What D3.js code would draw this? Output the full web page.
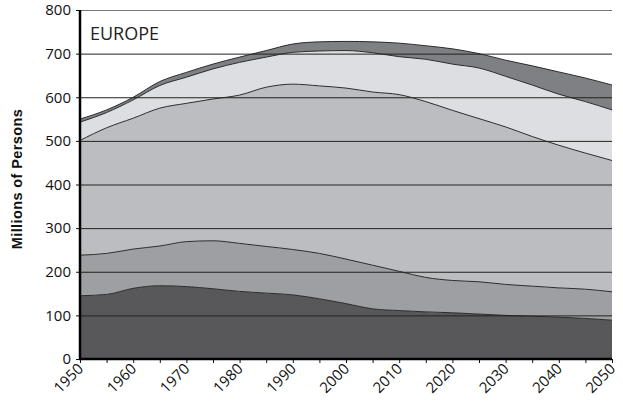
<!DOCTYPE html>
<html>
<head>
<meta charset="utf-8">
<script src="https://cdn.jsdelivr.net/npm/d3@7"></script>
<style>
  body { margin: 0; background: #fff; }
  svg { display: block; }
  .tick text { font-family: "Open Sans", sans-serif; font-size: 15px; fill: #111; }
</style>
</head>
<body>
<svg id="chart" width="623" height="404"></svg>
<script>
// data: Europe population by age group, millions
const years = d3.range(1950, 2051, 5);
const ageGroups = ['0-14', '15-24', '25-64', '65-79', '80+'];
const age0to14 = [145, 148, 162, 168, 166, 161, 155, 151, 147, 138, 127, 115, 111, 108, 106, 103, 100, 98, 96, 93, 89];
const age15to24 = [93, 94, 90, 91, 103, 110, 110, 107, 104, 104, 102, 100, 90, 79, 74, 74, 71, 69, 67, 67, 65];
const age25to64 = [263, 288, 300, 316, 317, 325, 340, 365, 379, 384, 392, 397, 405, 403, 390, 374, 361, 343, 327, 312, 301];
const age65to79 = [42, 35, 42, 52, 60, 69, 75, 69, 73, 80, 86, 90, 87, 97, 106, 116, 116, 118, 117, 118, 116];
const age80plus = [7, 6, 6, 9, 11, 11, 12, 15, 19, 21, 21, 25, 31, 31, 35, 33, 37, 44, 51, 54, 57];
const yTicks = [0, 100, 200, 300, 400, 500, 600, 700, 800];
const xLabels = d3.range(1950, 2051, 10);

const series = [age0to14, age15to24, age25to64, age65to79, age80plus];
const colors = ['#58585b', '#9e9fa2', '#bcbdc1', '#dddee1', '#7f8083'];

const table = years.map((yr, i) => {
  const row = { year: yr };
  ageGroups.forEach((g, j) => { row[g] = series[j][i]; });
  return row;
});

const svg = d3.select('#chart');
const margin = { top: 10, right: 11, bottom: 45, left: 80 };
const width = 623 - margin.left - margin.right,
  height = 404 - margin.top - margin.bottom;

const x = d3.scaleLinear().domain([1950, 2050]).range([0, width]);
const y = d3.scaleLinear().domain([0, 800]).range([height, 0]);

const g = svg.append('g').attr('transform', `translate(${margin.left},${margin.top})`);

// stacked areas
const stacked = d3.stack().keys(ageGroups)(table);
const area = d3.area()
  .curve(d3.curveMonotoneX)
  .x(d => x(d.data.year))
  .y0(d => y(d[0]))
  .y1(d => y(d[1]));

g.selectAll('path.layer')
  .data(stacked)
  .enter()
  .append('path')
  .attr('class', 'layer')
  .attr('d', area)
  .attr('fill', (d, i) => colors[i]);

// layer outlines
const line = d3.line()
  .curve(d3.curveMonotoneX)
  .x(d => x(d.data.year))
  .y(d => y(d[1]));

g.selectAll('path.edge')
  .data(stacked)
  .enter()
  .append('path')
  .attr('class', 'edge')
  .attr('d', line)
  .attr('fill', 'none')
  .attr('stroke', '#2b2b2d')
  .attr('stroke-width', 1);

// grid lines over the areas
g.selectAll('line.grid')
  .data(yTicks.filter(v => v > 0))
  .enter()
  .append('line')
  .attr('class', 'grid')
  .attr('x1', 0)
  .attr('x2', width)
  .attr('y1', d => y(d) + 0.5)
  .attr('y2', d => y(d) + 0.5)
  .attr('stroke', d => (d === 800 ? '#777' : '#222'))
  .attr('stroke-width', 1);

// y axis
const yAxis = g.append('g')
  .call(d3.axisLeft(y).tickValues(yTicks).tickSize(4).tickPadding(5));
yAxis.select('.domain').remove();
yAxis.selectAll('.tick line').attr('stroke', '#111');

// x axis
const xAxis = g.append('g')
  .attr('transform', `translate(0,${height})`)
  .call(d3.axisBottom(x).tickValues(years).tickSize(4).tickFormat(d => (xLabels.includes(d) ? d : '')));
xAxis.select('.domain').remove();
xAxis.selectAll('.tick line').attr('stroke', '#111');
xAxis.selectAll('.tick text')
  .attr('x', 0)
  .attr('y', 0)
  .attr('text-anchor', 'end')
  .attr('dy', '0.35em')
  .attr('transform', 'translate(0,7) rotate(-45)');

// heavy axis lines
g.append('line')
  .attr('x1', 0).attr('x2', 0)
  .attr('y1', 0).attr('y2', height + 1)
  .attr('stroke', '#000').attr('stroke-width', 2.5);
g.append('line')
  .attr('x1', -1).attr('x2', width)
  .attr('y1', height).attr('y2', height)
  .attr('stroke', '#000').attr('stroke-width', 2.5);

// labels
g.append('text')
  .attr('x', 10)
  .attr('y', 30)
  .attr('font-family', '"Open Sans", sans-serif')
  .attr('font-size', 18)
  .attr('fill', '#222')
  .text('EUROPE');

svg.append('text')
  .attr('transform', 'translate(22,179) rotate(-90)')
  .attr('text-anchor', 'middle')
  .attr('font-family', '"Liberation Sans", Arial, sans-serif')
  .attr('font-weight', 'bold')
  .attr('font-size', 14.5)
  .attr('letter-spacing', 0.4)
  .attr('fill', '#111')
  .text('Millions of Persons');
</script>
</body>
</html>
